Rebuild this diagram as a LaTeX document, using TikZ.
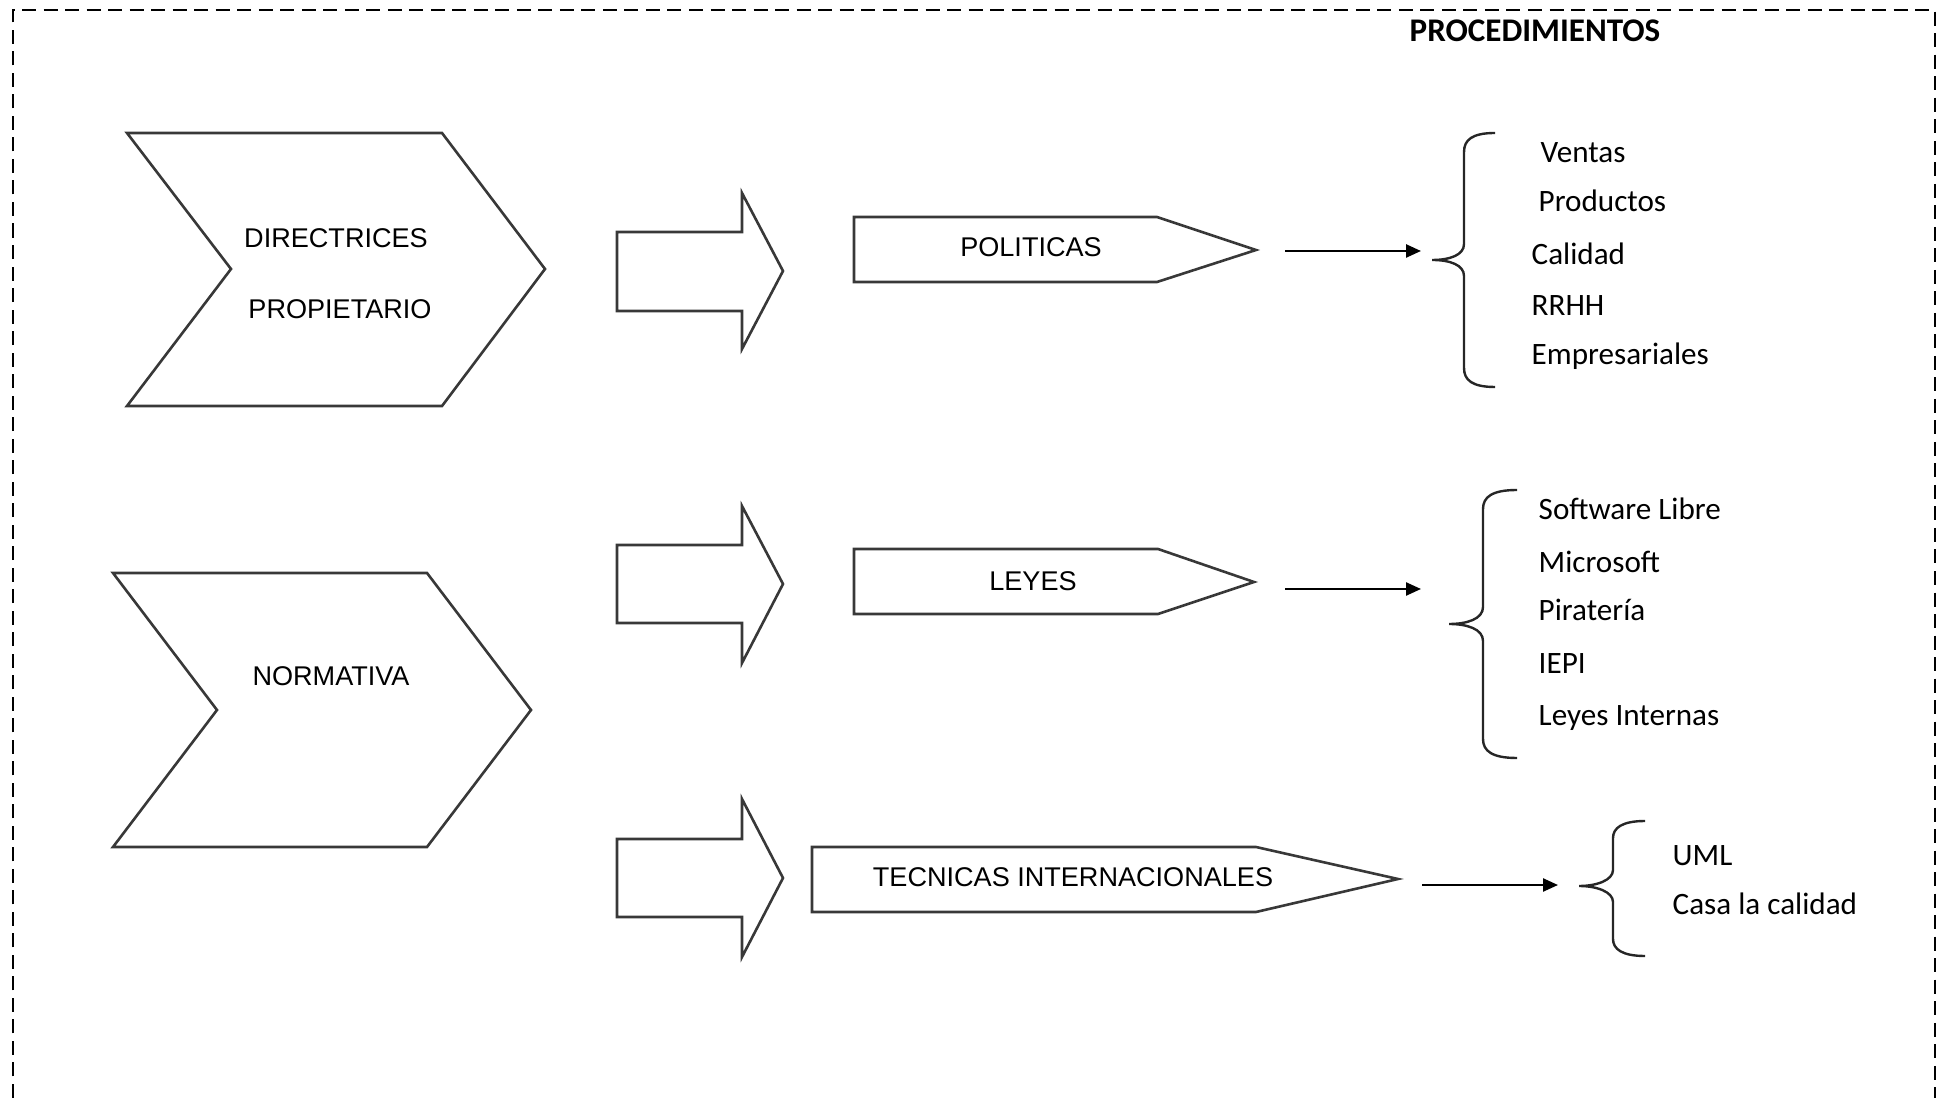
\documentclass[tikz,border=0pt]{standalone}
\usepackage{fontspec}
\setmainfont{Liberation Sans}
\newfontfamily\listfont{Carlito}
\usetikzlibrary{arrows.meta}

\begin{document}
\begin{tikzpicture}[x=0.01cm,y=-0.01cm,
  outline/.style={draw=black!78,line width=0.026cm,line join=miter},
  bracket/.style={draw=black!85,line width=0.024cm},
  conn/.style={draw=black,line width=0.024cm,-{Triangle[length=0.15cm,width=0.13cm]}},
  frame/.style={draw=black,line width=0.028cm,dash pattern=on 0.14cm off 0.075cm},
  label/.style={inner sep=0pt,anchor=base,font=\fontsize{7.7pt}{9pt}\selectfont},
  item/.style={inner sep=0pt,anchor=base west,font=\listfont\fontsize{8.85pt}{11pt}\selectfont},
  heading/.style={inner sep=0pt,anchor=base west,font=\listfont\bfseries\fontsize{9.4pt}{11pt}\selectfont}]

\useasboundingbox (0,0) rectangle (1937,1098);

% dashed frame (its lower edge lies below the page)
\draw[frame] (13,1098) -- (13,10) -- (1935,10) -- (1935,1098);

\node[heading] (proc) at (1409,42) {PROCEDIMIENTOS};

% chevrons
\draw[outline] (127,133) -- (442,133) -- (545,269) -- (442,406) -- (127,406) -- (231,269) -- cycle;
\node[label] (dir) at (336,248) {DIRECTRICES};
\node[label] (prop) at (340,319) {PROPIETARIO};

\draw[outline] (113,573) -- (427,573) -- (531,710) -- (427,847) -- (113,847) -- (217,710) -- cycle;
\node[label] (norm) at (331,686) {NORMATIVA};

% block arrows
\draw[outline] (617,232) -- (742,232) -- (742,193) -- (783,271) -- (742,349) -- (742,311) -- (617,311) -- cycle;
\draw[outline] (617,545) -- (742,545) -- (742,506) -- (783,584) -- (742,663) -- (742,623) -- (617,623) -- cycle;
\draw[outline] (617,839) -- (742,839) -- (742,799) -- (783,878) -- (742,957) -- (742,917) -- (617,917) -- cycle;

% pointed boxes
\draw[outline] (854,217) -- (1157,217) -- (1256,250) -- (1157,282) -- (854,282) -- cycle;
\node[label] (pol) at (1031,257) {POLITICAS};
\draw[outline] (854,549) -- (1158,549) -- (1254,582) -- (1158,614) -- (854,614) -- cycle;
\node[label] (ley) at (1033,591) {LEYES};
\draw[outline] (812,847) -- (1256,847) -- (1398,879) -- (1256,912) -- (812,912) -- cycle;
\node[label] (tec) at (1073,886) {TECNICAS INTERNACIONALES};

% connector ends
\coordinate (polA) at (1285,251);
\coordinate (polB) at (1421,251);
\coordinate (leyA) at (1285,589);
\coordinate (leyB) at (1421,589);
\coordinate (tecA) at (1422,885);
\coordinate (tecB) at (1558,885);
\draw[conn] (polA) -- (polB);
\draw[conn] (leyA) -- (leyB);
\draw[conn] (tecA) -- (tecB);

% braces
\draw[bracket] (1495,133) .. controls (1472,133) and (1464,140) .. (1464,152) -- (1464,244)
  .. controls (1464,255) and (1450,260) .. (1432,260)
  .. controls (1450,260) and (1464,265) .. (1464,276) -- (1464,368)
  .. controls (1464,380) and (1472,387) .. (1495,387);
\draw[bracket] (1517,490) .. controls (1492,490) and (1483,497) .. (1483,509) -- (1483,607)
  .. controls (1483,619) and (1467,624) .. (1449,624)
  .. controls (1467,624) and (1483,629) .. (1483,641) -- (1483,739)
  .. controls (1483,751) and (1492,758) .. (1517,758);
\draw[bracket] (1645,821) .. controls (1622,821) and (1613,828) .. (1613,838) -- (1613,870)
  .. controls (1613,880) and (1597,886) .. (1579,886)
  .. controls (1597,886) and (1613,892) .. (1613,902) -- (1613,939)
  .. controls (1613,949) and (1622,956) .. (1645,956);

% lists
\node[item] (i1) at (1540,163) {Ventas};
\node[item] (i2) at (1538,212) {Productos};
\node[item] (i3) at (1531,265) {Calidad};
\node[item] (i4) at (1531,316) {RRHH};
\node[item] (i5) at (1531,365) {Empresariales};

\node[item] (j1) at (1538,520) {Software Libre};
\node[item] (j2) at (1538,573) {Microsoft};
\node[item] (j3) at (1538,621) {Piratería};
\node[item] (j4) at (1538,674) {IEPI};
\node[item] (j5) at (1538,726) {Leyes Internas};

\node[item] (k1) at (1672,865) {UML};
\node[item] (k2) at (1672,914) {Casa la calidad};
\end{tikzpicture}
\end{document}
